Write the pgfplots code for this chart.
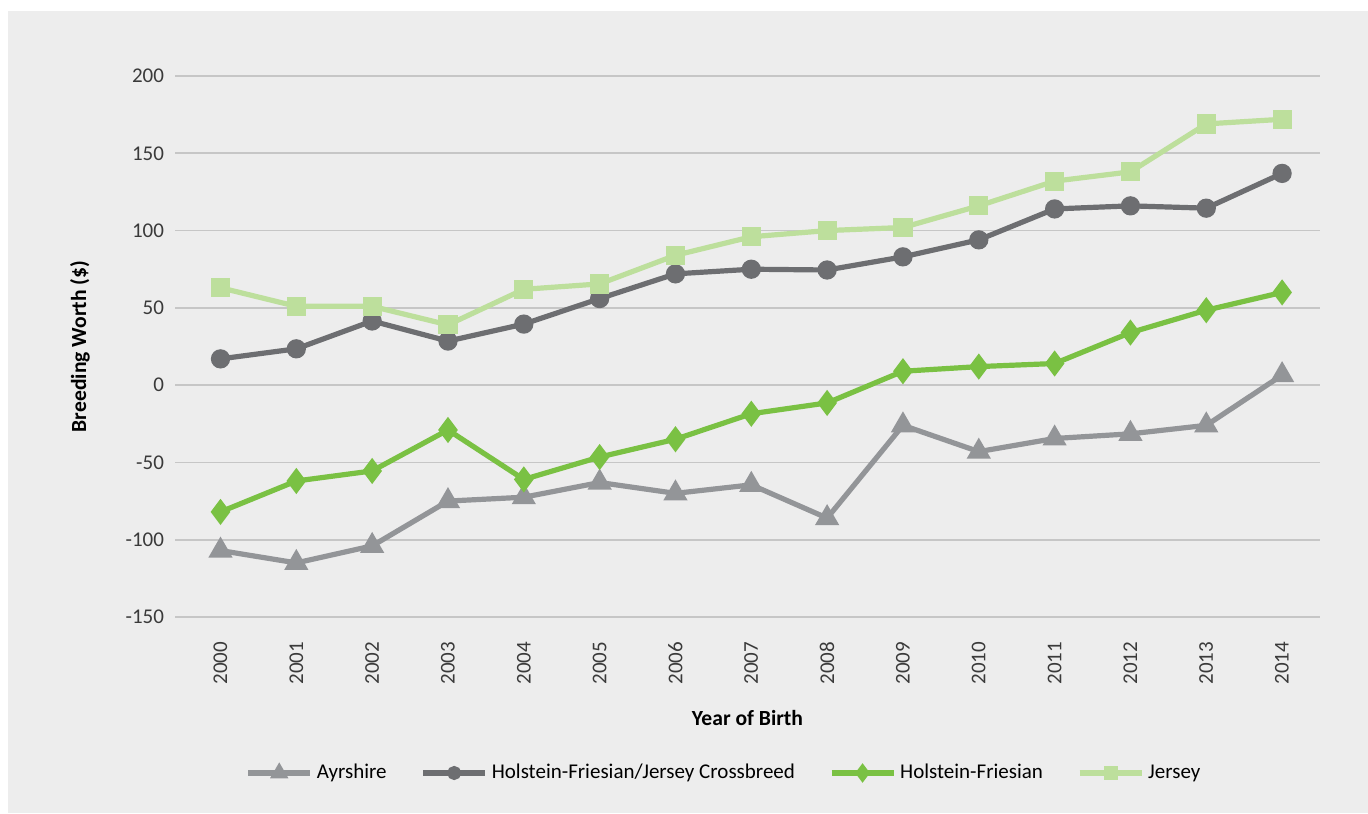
\documentclass[border=0pt]{standalone}
\usepackage{pgfplots}
\pgfplotsset{compat=1.18}
\usepackage{fontspec}
\setmainfont{Carlito}

\definecolor{bgGray}{HTML}{EDEDED}
\definecolor{gridGray}{HTML}{C6C6C6}
\definecolor{tickText}{HTML}{3A3A3A}
\definecolor{ayrGray}{HTML}{939598}
\definecolor{crossGray}{HTML}{6D6E71}
\definecolor{hfGreen}{HTML}{7AC143}
\definecolor{jerGreen}{HTML}{BDDF9C}

\begin{document}
\begin{tikzpicture}
% 1 px of the reference = 0.5pt here; axis lower left sits at px (175,617)
\useasboundingbox (-87.5pt,-98pt) rectangle (596.5pt,308.5pt);
\fill[white] (-87.5pt,-98pt) rectangle (596.5pt,308.5pt);
\fill[bgGray] (-83.5pt,-98pt) rectangle (596.5pt,303pt);
\begin{axis}[
    at={(0,0)}, anchor=south west,
    scale only axis,
    width=572.5pt, height=270.5pt,
    xmin=1999.4, xmax=2014.5,
    ymin=-150, ymax=200,
    ytick={-150,-100,...,200},
    xtick={2000,...,2014},
    axis line style={draw=none},
    tick style={draw=none},
    ymajorgrids,
    major grid style={gridGray, line width=0.8pt},
    ticklabel style={font=\fontsize{10.5}{12}\selectfont, text=tickText},
    /pgf/number format/assume math mode=true,
    /pgf/number format/1000 sep={},
    xticklabel style={rotate=90, anchor=east},
    xtick pos=bottom,
    xticklabel shift=9pt,
    yticklabel shift=2pt,
    xlabel={\bfseries Year of Birth},
    ylabel={\bfseries Breeding Worth (\$)},
    label style={font=\fontsize{10.8}{12}\selectfont, text=black},
    xlabel style={at={(axis description cs:0.5,-0.187)}, anchor=center},
    ylabel style={at={(axis description cs:-0.083,0.5)}, anchor=center},
    legend columns=-1,
    legend style={at={(275pt,-78pt)}, anchor=center, draw=none, fill=none,
        font=\fontsize{10.5}{12}\selectfont, text=black,
        /tikz/every even column/.append style={column sep=15pt}},
    legend image code/.code={
        \draw[mark repeat=2, mark phase=2, #1, every mark/.append style={scale=0.62}]
            plot coordinates {(0pt,0pt) (15.5pt,0pt) (31pt,0pt)};},
    every axis plot/.append style={line width=2.6pt},
    every mark/.append style={line width=0.3pt},
    clip=false,
]
\addplot[ayrGray, mark=triangle*, mark size=4.4pt] coordinates {
(2000,-107) (2001,-115) (2002,-104) (2003,-75) (2004,-72.5) (2005,-63) (2006,-70)
(2007,-64.5) (2008,-86) (2009,-26) (2010,-43) (2011,-34.5) (2012,-31.5) (2013,-26) (2014,6.5)};
\addlegendentry{Ayrshire}
\addplot[crossGray, mark=*, mark size=3.5pt] coordinates {
(2000,17) (2001,23.5) (2002,41.5) (2003,28.5) (2004,39.5) (2005,56) (2006,72)
(2007,75) (2008,74.5) (2009,83) (2010,94) (2011,114) (2012,116) (2013,114.5) (2014,137)};
\addlegendentry{Holstein-Friesian/Jersey Crossbreed}
\addplot[hfGreen, mark=diamond*, mark size=4.4pt] coordinates {
(2000,-82) (2001,-62) (2002,-55.5) (2003,-29) (2004,-61) (2005,-46.5) (2006,-35)
(2007,-18.5) (2008,-11.5) (2009,9) (2010,12) (2011,14) (2012,34) (2013,48.5) (2014,60)};
\addlegendentry{Holstein-Friesian}
\addplot[jerGreen, mark=square*, mark size=3.5pt] coordinates {
(2000,63) (2001,51) (2002,51) (2003,39) (2004,62) (2005,65.5) (2006,84)
(2007,96) (2008,100) (2009,102) (2010,116) (2011,132) (2012,138) (2013,169) (2014,172)};
\addlegendentry{Jersey}
\end{axis}
\end{tikzpicture}
\end{document}
